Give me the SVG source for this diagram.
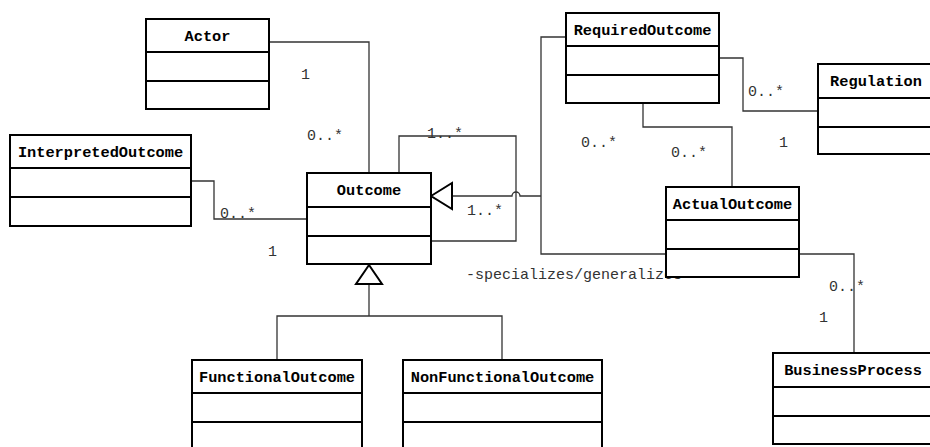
<svg xmlns="http://www.w3.org/2000/svg" width="930" height="447" viewBox="0 0 930 447">
  <style>
    .box rect, .box line { fill: #fff; stroke: #000; stroke-width: 2; }
    .box line { fill: none; }
    .name { font-family: "Liberation Mono", "DejaVu Sans Mono", monospace; font-weight: bold; font-size: 15.3px; fill: #000; text-anchor: middle; }
    .edge { fill: none; stroke: #333; stroke-width: 1.3; }
    .mult { font-family: "Liberation Mono", "DejaVu Sans Mono", monospace; font-size: 15px; fill: #333; }
    .gen { fill: #fff; stroke: #000; stroke-width: 2; }
  </style>
  <rect width="930" height="447" fill="#fff"/>

  <!-- connectors -->
  <g id="connectors">
    <!-- Actor 1 — 0..* Outcome -->
    <polyline class="edge" points="269,42 369,42 369,173"/>
    <!-- InterpretedOutcome 0..* — 1 Outcome -->
    <polyline class="edge" points="191,181 214,181 214,219 307,219"/>
    <!-- Outcome self association -->
    <polyline class="edge" points="399,173 399,136 516,136 516,241 431,241"/>
    <!-- generalization from RequiredOutcome / ActualOutcome to Outcome (with line hop) -->
    <path class="edge" d="M452,196 H512 A4,4 0 0 1 520,196 H541"/>
    <polyline class="edge" points="566,37 541,37 541,254 666,254"/>
    <polygon class="gen" points="431,196 452,183 452,209"/>
    <!-- RequiredOutcome 0..* — 1 Regulation -->
    <polyline class="edge" points="719,58 743,58 743,111 818,111"/>
    <!-- RequiredOutcome 0..* — 0..* ActualOutcome -->
    <polyline class="edge" points="643,103 643,127 732,127 732,187"/>
    <!-- ActualOutcome 0..* — 1 BusinessProcess -->
    <polyline class="edge" points="799,254 854,254 854,353"/>
    <!-- Functional / NonFunctional generalization to Outcome -->
    <polyline class="edge" points="369,284 369,316"/>
    <polyline class="edge" points="277,360 277,316 502,316 502,360"/>
    <polygon class="gen" points="369,265 356,284 382,284"/>

    <text class="mult" x="301" y="79">1</text>
    <text class="mult" x="307" y="140">0..*</text>
    <text class="mult" x="220" y="218">0..*</text>
    <text class="mult" x="268" y="256">1</text>
    <text class="mult" x="427" y="138">1..*</text>
    <text class="mult" x="467" y="215">1..*</text>
    <text class="mult" x="748" y="96">0..*</text>
    <text class="mult" x="779" y="147">1</text>
    <text class="mult" x="581" y="147">0..*</text>
    <text class="mult" x="671" y="157">0..*</text>
    <text class="mult" x="829" y="291">0..*</text>
    <text class="mult" x="819" y="322">1</text>
    <text class="mult" x="466" y="279">-specializes/generalizes</text>
  </g>

  <g id="Actor" class="box">
    <rect x="146" y="19" width="123" height="90"/>
    <line x1="146" y1="52" x2="269" y2="52"/>
    <line x1="146" y1="81" x2="269" y2="81"/>
    <text class="name" x="207.5" y="41">Actor</text>
  </g>

  <g id="InterpretedOutcome" class="box">
    <rect x="10" y="135" width="181" height="91"/>
    <line x1="10" y1="168" x2="191" y2="168"/>
    <line x1="10" y1="197" x2="191" y2="197"/>
    <text class="name" x="100.5" y="157">InterpretedOutcome</text>
  </g>

  <g id="Outcome" class="box">
    <rect x="307" y="173" width="124" height="91"/>
    <line x1="307" y1="207" x2="431" y2="207"/>
    <line x1="307" y1="236" x2="431" y2="236"/>
    <text class="name" x="369" y="195">Outcome</text>
  </g>

  <g id="RequiredOutcome" class="box">
    <rect x="566" y="13" width="153" height="90"/>
    <line x1="566" y1="46" x2="719" y2="46"/>
    <line x1="566" y1="75" x2="719" y2="75"/>
    <text class="name" x="642.5" y="35">RequiredOutcome</text>
  </g>

  <g id="Regulation" class="box">
    <rect x="818" y="64" width="130" height="90"/>
    <line x1="818" y1="98" x2="948" y2="98"/>
    <line x1="818" y1="127" x2="948" y2="127"/>
    <text class="name" x="876" y="86">Regulation</text>
  </g>

  <g id="ActualOutcome" class="box">
    <rect x="666" y="187" width="133" height="90"/>
    <line x1="666" y1="220" x2="799" y2="220"/>
    <line x1="666" y1="249" x2="799" y2="249"/>
    <text class="name" x="732.5" y="209">ActualOutcome</text>
  </g>

  <g id="BusinessProcess" class="box">
    <rect x="773" y="353" width="170" height="91"/>
    <line x1="773" y1="387" x2="943" y2="387"/>
    <line x1="773" y1="416" x2="943" y2="416"/>
    <text class="name" x="853" y="375">BusinessProcess</text>
  </g>

  <g id="FunctionalOutcome" class="box">
    <rect x="192" y="360" width="170" height="100"/>
    <line x1="192" y1="393" x2="362" y2="393"/>
    <line x1="192" y1="422" x2="362" y2="422"/>
    <text class="name" x="277" y="382">FunctionalOutcome</text>
  </g>

  <g id="NonFunctionalOutcome" class="box">
    <rect x="403" y="360" width="199" height="100"/>
    <line x1="403" y1="393" x2="602" y2="393"/>
    <line x1="403" y1="422" x2="602" y2="422"/>
    <text class="name" x="502.5" y="382">NonFunctionalOutcome</text>
  </g>
</svg>
